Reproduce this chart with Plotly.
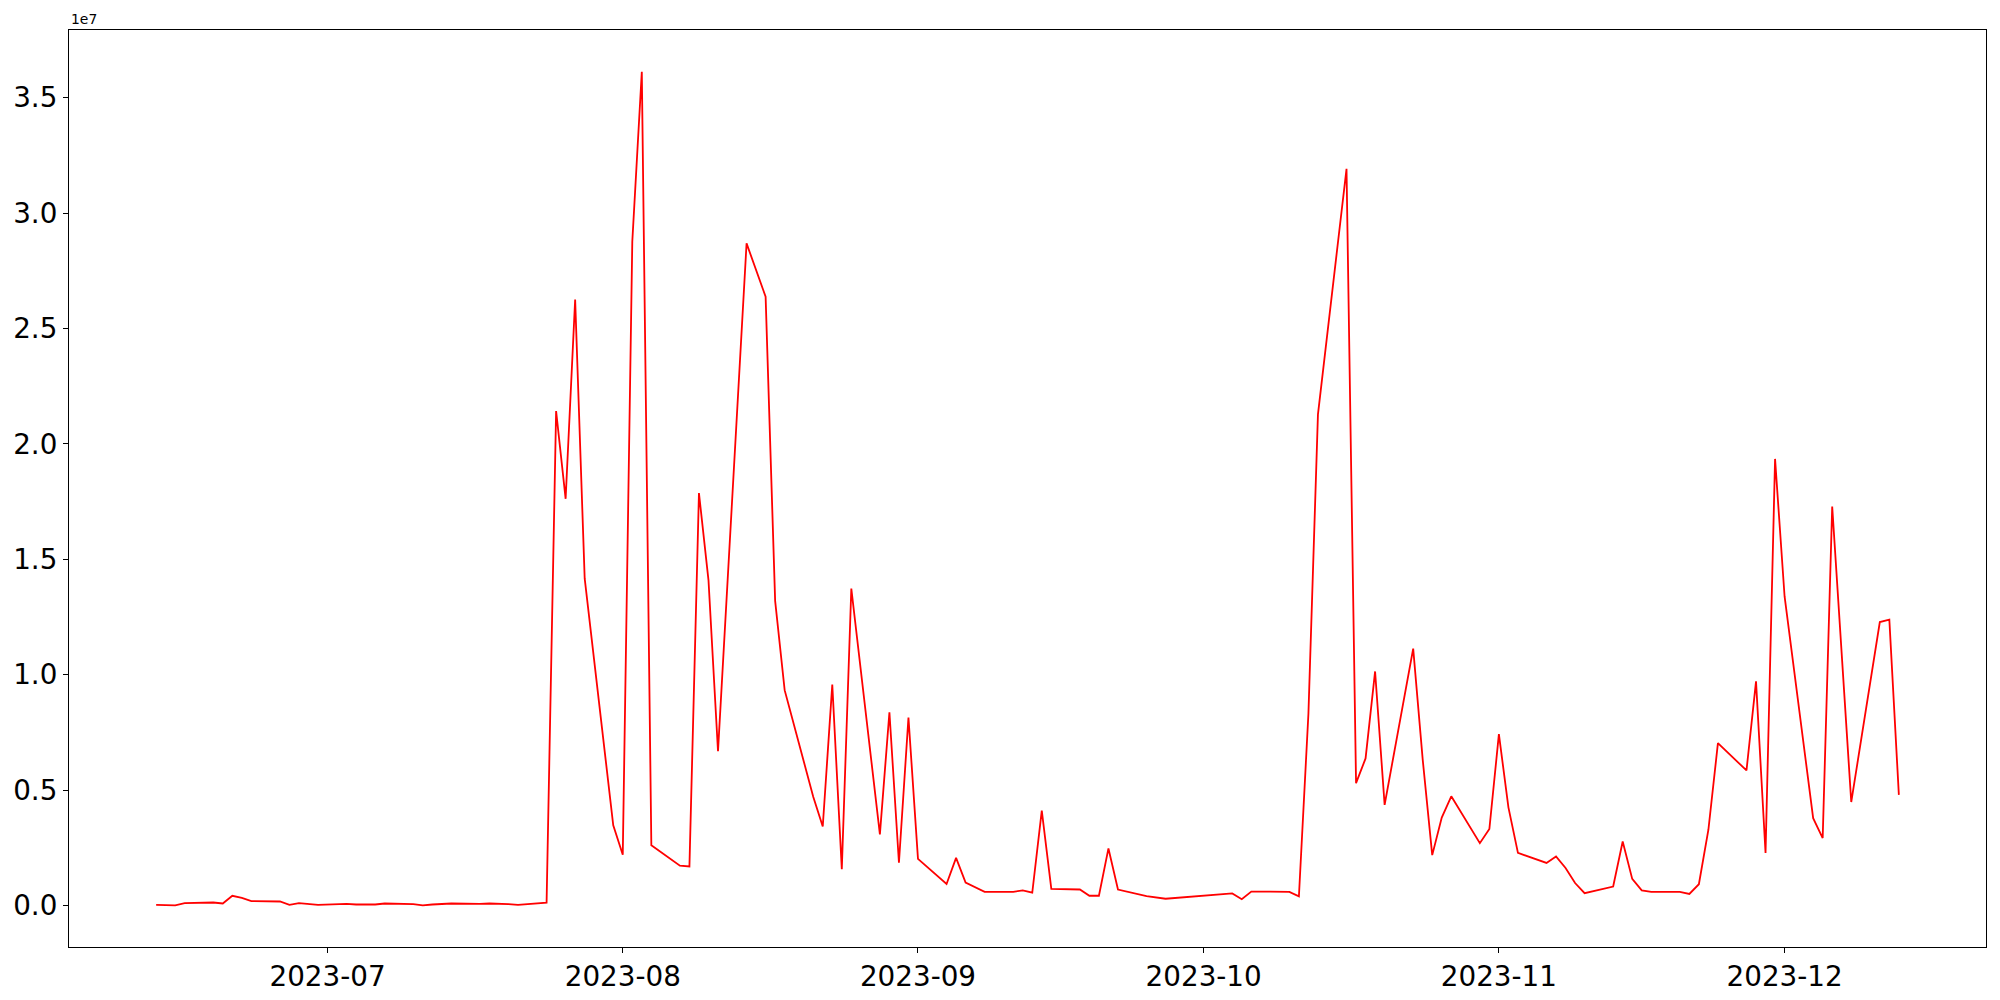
import plotly.graph_objects as go

dates = [
    "2023-06-13", "2023-06-15", "2023-06-16", "2023-06-19", "2023-06-20", "2023-06-21",
    "2023-06-22", "2023-06-23", "2023-06-26", "2023-06-27", "2023-06-28", "2023-06-30",
    "2023-07-03", "2023-07-04", "2023-07-06", "2023-07-07", "2023-07-10", "2023-07-11",
    "2023-07-12", "2023-07-14", "2023-07-17", "2023-07-18", "2023-07-20", "2023-07-21",
    "2023-07-24", "2023-07-25", "2023-07-26", "2023-07-27", "2023-07-28", "2023-07-31",
    "2023-08-01", "2023-08-02", "2023-08-03", "2023-08-04", "2023-08-07", "2023-08-08",
    "2023-08-09", "2023-08-10", "2023-08-11", "2023-08-14", "2023-08-16", "2023-08-17",
    "2023-08-18", "2023-08-21", "2023-08-22", "2023-08-23", "2023-08-24", "2023-08-25",
    "2023-08-28", "2023-08-29", "2023-08-30", "2023-08-31", "2023-09-01", "2023-09-04",
    "2023-09-05", "2023-09-06", "2023-09-08", "2023-09-11", "2023-09-12", "2023-09-13",
    "2023-09-14", "2023-09-15", "2023-09-18", "2023-09-19", "2023-09-20", "2023-09-21",
    "2023-09-22", "2023-09-25", "2023-09-27", "2023-10-04", "2023-10-05", "2023-10-06",
    "2023-10-10", "2023-10-11", "2023-10-12", "2023-10-13", "2023-10-16", "2023-10-17",
    "2023-10-18", "2023-10-19", "2023-10-20", "2023-10-23", "2023-10-24", "2023-10-25",
    "2023-10-26", "2023-10-27", "2023-10-30", "2023-10-31", "2023-11-01", "2023-11-02",
    "2023-11-03", "2023-11-06", "2023-11-07", "2023-11-08", "2023-11-09", "2023-11-10",
    "2023-11-13", "2023-11-14", "2023-11-15", "2023-11-16", "2023-11-17", "2023-11-20",
    "2023-11-21", "2023-11-22", "2023-11-23", "2023-11-24", "2023-11-27", "2023-11-28",
    "2023-11-29", "2023-11-30", "2023-12-01", "2023-12-04", "2023-12-05", "2023-12-06",
    "2023-12-08", "2023-12-11", "2023-12-12", "2023-12-13",
]

values = [
    26000, 5000, 98000, 127000, 84000, 416000,
    330000, 185000, 170000, 26000, 98000, 26000,
    69000, 40000, 40000, 84000, 55000, 5000,
    40000, 84000, 69000, 84000, 55000, 26000,
    120000, 21420000, 17620000, 26260000, 14170000, 3470000,
    2200000, 28760000, 36130000, 2610000, 1720000, 1690000,
    17870000, 14100000, 6680000, 28690000, 26380000, 13200000,
    9330000, 4710000, 3420000, 9570000, 1570000, 13730000,
    3080000, 8370000, 1850000, 8140000, 2020000, 930000,
    2060000, 990000, 590000, 590000, 650000, 550000,
    4110000, 720000, 690000, 420000, 420000, 2470000,
    690000, 400000, 290000, 520000, 270000, 600000,
    590000, 390000, 8320000, 21280000, 31920000, 5300000,
    6370000, 10140000, 4360000, 11130000, 6320000, 2180000,
    3810000, 4730000, 2700000, 3310000, 7420000, 4250000,
    2280000, 1840000, 2120000, 1620000, 970000, 530000,
    820000, 2770000, 1150000, 650000, 590000, 590000,
    500000, 920000, 3280000, 7030000, 5850000, 9710000,
    2270000, 19350000, 13390000, 3780000, 2920000, 17290000,
    4480000, 12280000, 12380000, 4790000,
]

x_tick_vals = ["2023-07-01", "2023-08-01", "2023-09-01", "2023-10-01", "2023-11-01", "2023-12-01"]
x_tick_text = ["2023-07", "2023-08", "2023-09", "2023-10", "2023-11", "2023-12"]
y_tick_vals = [0, 5e6, 1e7, 1.5e7, 2e7, 2.5e7, 3e7, 3.5e7]
y_tick_text = ["0.0", "0.5", "1.0", "1.5", "2.0", "2.5", "3.0", "3.5"]

FONT = "DejaVu Sans"

fig = go.Figure()
fig.add_trace(go.Scatter(
    x=dates, y=values, mode="lines",
    line=dict(color="#ff0000", width=1.8),
    showlegend=False, hoverinfo="x+y",
))

ymax = max(values)
ymin = min(values)
pad = (ymax - ymin) * 0.05

fig.update_layout(
    width=1992, height=992,
    margin=dict(l=61, r=14, t=22, b=53, autoexpand=False),
    paper_bgcolor="white", plot_bgcolor="white",
    font=dict(family=FONT, color="black"),
    xaxis=dict(
        type="date", automargin=False,
        range=["2023-06-03 20:24", "2023-12-22 03:36"],
        tickmode="array", tickvals=x_tick_vals, ticktext=x_tick_text,
        tickfont=dict(size=27.8, family=FONT, color="black"),
        ticks="outside", ticklen=5, tickwidth=1.1, tickcolor="black",
        showline=True, linecolor="black", linewidth=1.1, mirror=True,
        showgrid=False, zeroline=False,
    ),
    yaxis=dict(
        automargin=False,
        range=[ymin - pad, ymax + pad],
        tickmode="array", tickvals=y_tick_vals, ticktext=y_tick_text,
        tickfont=dict(size=27.8, family=FONT, color="black"),
        ticks="outside", ticklen=5, tickwidth=1.1, tickcolor="black",
        showline=True, linecolor="black", linewidth=1.1, mirror=True,
        showgrid=False, zeroline=False,
    ),
    annotations=[dict(
        text="1e7", xref="paper", yref="paper", x=0, y=1,
        xanchor="left", yanchor="bottom", yshift=1, showarrow=False,
        font=dict(size=13.9, family=FONT, color="black"),
    )],
)

fig.write_html("out.html")
